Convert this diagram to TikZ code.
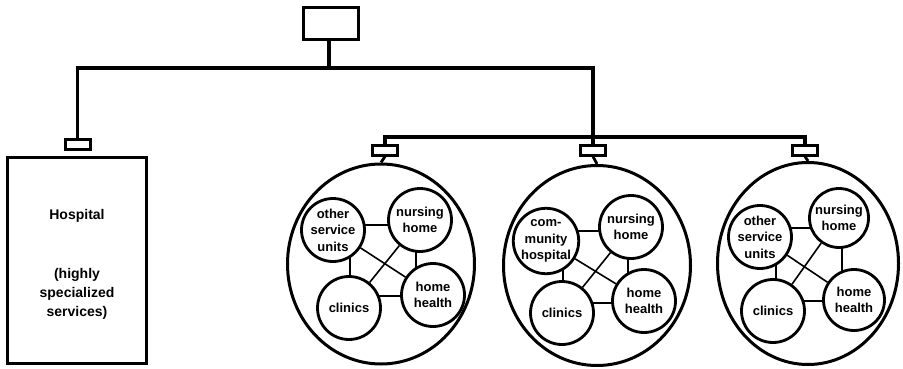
\documentclass[tikz,border=0pt]{standalone}
\usepackage{fontspec}
\setmainfont{Liberation Sans}
\usetikzlibrary{shapes.geometric,backgrounds}
\begin{document}
\begin{tikzpicture}[x=1pt,y=-1pt,
  bus/.style={line width=3.2pt},
  stem/.style={line width=2.8pt},
  conn/.style={line width=1.6pt},
  plug/.style={draw,line width=3pt,minimum width=25pt,minimum height=10pt,inner sep=0pt},
  outer/.style={draw,ellipse,line width=3pt,minimum width=187pt,minimum height=200pt,inner sep=0pt},
  unit/.style={draw,circle,fill=white,line width=2.8pt,minimum size=63pt,inner sep=0pt,align=center,
    font=\bfseries\fontsize{13}{16.5}\selectfont},
  label/.style={align=center,inner sep=0pt,font=\bfseries\fontsize{14}{19}\selectfont},
]
\useasboundingbox (0,0) rectangle (903,369);

% top box and hospital
\node[draw,line width=3.2pt,minimum width=55pt,minimum height=32pt,inner sep=0pt] (top) at (331,23.5) {};
\node[draw,line width=3pt,minimum width=139pt,minimum height=206pt,inner sep=0pt] (hosp) at (77,260.5) {};
\node[label] (htitle) at (77,216) {Hospital};
\node[label] (hsub) at (77,294) {(highly\\specialized\\services)};
\node[plug] (hplug) at (77.5,144) {};

% plugs
\node[plug] (p1) at (385,150) {};
\node[plug] (p2) at (593,150) {};
\node[plug] (p3) at (805,150) {};

% buses
\coordinate (jt) at (329,68);
\coordinate (jr) at (593,68);
\coordinate (b2) at (593,137);
\draw[bus] (top.south -| jt) -- (jt);
\draw[bus] (hplug.north) -- (hplug.north |- jt) -- (jr) -- (p2.north);
\draw[bus] (p1.north) -- (p1.north |- b2) -- (p3.north |- b2) -- (p3.north);

% clusters
\node[outer] (c1) at (381,264) {};
\node[outer] (c2) at (597,265.5) {};
\node[outer,minimum width=181pt,minimum height=202pt] (c3) at (808,263.5) {};
\draw[stem] (p1.south) -- (c1.north);
\draw[stem] (p2.south) -- (c2.north);
\draw[stem] (p3.south) -- (c3.north);

% cluster 1
\node[unit] (o1) at (333,230) {other\\service\\units};
\node[unit] (n1) at (420,220) {nursing\\home};
\node[unit] (k1) at (349,308) {clinics};
\node[unit] (h1) at (433,295) {home\\health};
% cluster 2
\node[unit] (o2) at (546,241) {com-\\munity\\hospital};
\node[unit] (n2) at (631,227) {nursing\\home};
\node[unit] (k2) at (562,313) {clinics};
\node[unit] (h2) at (644,301) {home\\health};
% cluster 3
\node[unit] (o3) at (760,237) {other\\service\\units};
\node[unit,minimum size=59pt] (n3) at (839,218) {nursing\\home};
\node[unit] (k3) at (773,311) {clinics};
\node[unit,minimum size=61pt] (h3) at (854,300) {home\\health};

\begin{scope}[on background layer]
\foreach \i/\yon/\xok/\xnh/\ykh in {1/225/350/416/296, 2/231/563/628/303, 3/228/776/842/301}{
  \draw[conn] (o\i.center |- 0,\yon) -- (n\i.center |- 0,\yon);
  \draw[conn] (o\i.center -| \xok,0) -- (k\i.center -| \xok,0);
  \draw[conn] (n\i.center -| \xnh,0) -- (h\i.center -| \xnh,0);
  \draw[conn] (k\i.center |- 0,\ykh) -- (h\i.center |- 0,\ykh);
  \draw[conn] (o\i) -- (h\i);
  \draw[conn] (n\i) -- (k\i);
}
\end{scope}
\end{tikzpicture}
\end{document}
